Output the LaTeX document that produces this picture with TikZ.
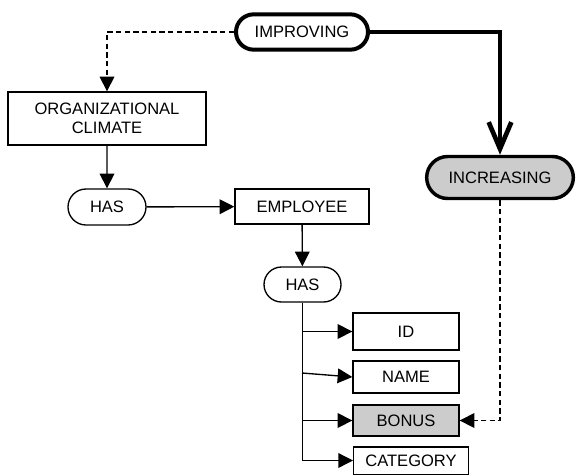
\documentclass[tikz,border=0pt]{standalone}
\usepackage{fontspec}
\setmainfont{Liberation Sans}
\usetikzlibrary{arrows.meta,shapes.misc}
\begin{document}
\begin{tikzpicture}[x=0.75pt,y=-0.75pt,
  lbl/.style={inner sep=0pt,align=center,font=\fontsize{12.4}{14.5}\selectfont},
  box/.style={lbl,draw,line width=1pt,rectangle},
  pill/.style={lbl,draw,line width=1pt,rounded rectangle},
  conn/.style={line width=1pt,-{Triangle[length=11pt,width=11pt]}},
  dconn/.style={conn,dash pattern=on 4pt off 2.5pt}]
\useasboundingbox (0,0) rectangle (577,475);
% nodes
\node[pill,line width=3pt,minimum width=99pt,minimum height=26.5pt] (imp) at (302,32) {IMPROVING};
\node[box,minimum width=148.5pt,minimum height=39.75pt] (org) at (107,118.5) {ORGANIZATIONAL\\CLIMATE};
\node[pill,minimum width=58.5pt,minimum height=27pt] (has1) at (107,207) {HAS};
\node[box,minimum width=100.5pt,minimum height=26.25pt] (emp) at (302,206.5) {EMPLOYEE};
\node[pill,minimum width=57.75pt,minimum height=26.25pt] (has2) at (302.5,284.5) {HAS};
\node[box,minimum width=79.5pt,minimum height=27.75pt] (id) at (406,331.5) {ID};
\node[box,minimum width=79.5pt,minimum height=24pt] (name) at (406,377) {NAME};
\node[box,fill=black!20,minimum width=79.5pt,minimum height=23.25pt] (bonus) at (406,420.5) {BONUS};
\node[box,minimum width=86pt,minimum height=20.5pt,anchor=west] (cat) at (353,460.5) {CATEGORY};
\node[pill,line width=2.6pt,fill=black!20,minimum width=110pt,minimum height=31.5pt] (inc) at (500,177.5) {INCREASING};
% connectors
\draw[dconn] (imp.west) -| (org.north);
\draw[conn] (org) -- (has1);
\draw[conn] (has1) -- (emp);
\draw[conn] (emp) -- (has2);
\draw[conn] (has2.south) |- (cat.west);
\draw[conn] (has2.south |- id.west) -- (id.west);
\coordinate (nb) at (302,373);
\draw[conn] (nb) -- (name.west);
\draw[conn] (has2.south |- bonus.west) -- (bonus.west);
\draw[line width=3.5pt,-{Straight Barb[length=20pt,width=17pt]}] (imp.east) -| (inc.north);
\draw[dconn] (inc.south) |- (bonus.east);
\end{tikzpicture}
\end{document}
